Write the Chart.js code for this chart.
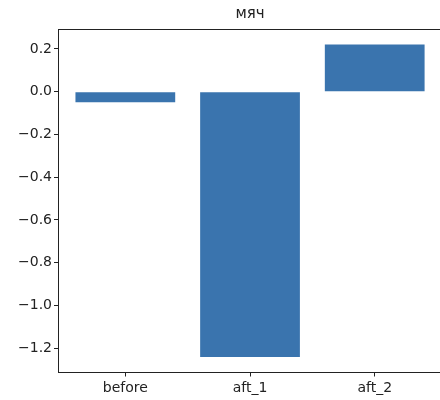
<!DOCTYPE html>
<html>
<head>
<meta charset="utf-8">
<script src="https://cdn.jsdelivr.net/npm/chart.js@4"></script>
<style>
  html, body { margin: 0; padding: 0; background: #fff; overflow: hidden; }
  #wrap { width: 600px; height: 400px; }
</style>
</head>
<body>
<div id="wrap"><canvas id="c" width="600" height="400"></canvas></div>
<script>
var title = "мяч";
var categories = ["before", "aft_1", "aft_2"];		// подписи по оси x
var values = [-0.05, -1.24, 0.22];					// высоты столбцов
var yTicks = [-1.2, -1.0, -0.8, -0.6, -0.4, -0.2, 0.0, 0.2];	// деления по оси y

var font = { family: "DejaVu Sans", size: 14 };
var ink = "#222";

// заголовок по центру области осей (правый край осей x=442) и верхняя рамка
var titlePlugin = {
	id: "centerTitle",
	afterDraw: function (chart) {
		var ctx = chart.ctx, a = chart.chartArea;
		ctx.save();
		ctx.strokeStyle = ink;
		ctx.lineWidth = 1;
		ctx.beginPath();
		ctx.moveTo(a.left, Math.round(a.top) + 0.5);
		ctx.lineTo(a.right, Math.round(a.top) + 0.5);
		ctx.stroke();
		ctx.fillStyle = ink;
		ctx.font = "15px 'DejaVu Sans'";
		ctx.textAlign = "center";
		ctx.textBaseline = "middle";
		ctx.fillText(title, (a.left + 442) / 2, 14);
		ctx.restore();
	}
};

new Chart(document.getElementById("c"), {
	type: "bar",
	data: {
		datasets: [{
			data: values.map(function (v, i) { return { x: i, y: v }; }),
			backgroundColor: "#3a74ae",
			borderWidth: 0,
			categoryPercentage: 1,
			barPercentage: 0.8
		}]
	},
	options: {
		responsive: false,
		animation: false,
		layout: { padding: { top: 29, right: 40, left: 0, bottom: 0 } },
		plugins: { legend: { display: false }, tooltip: { enabled: false } },
		scales: {
			x: {
				type: "linear",
				offset: false,
				min: -0.54,
				max: 3.486,
				afterBuildTicks: function (s) { s.ticks = categories.map(function (c, i) { return { value: i }; }); },
				afterFit: function (s) { s.height = 27.5; },
				ticks: {
					callback: function (v) { return categories[v]; },
					font: font, color: ink, padding: 3, maxRotation: 0, autoSkip: false
				},
				grid: { offset: false, drawOnChartArea: false, drawTicks: true, tickLength: 4, color: ink },
				border: { display: true, color: ink, width: 1 }
			},
			y: {
				min: -1.313,
				max: 0.293,
				afterBuildTicks: function (s) { s.ticks = yTicks.map(function (v) { return { value: v }; }); },
				afterFit: function (s) { s.width = 58; },
				ticks: {
					callback: function (v) { return v.toFixed(1).replace("-", "\u2212"); },
					font: font, color: ink, padding: 2
				},
				grid: { drawOnChartArea: false, drawTicks: true, tickLength: 4, color: ink },
				border: { display: true, color: ink, width: 1 }
			}
		}
	},
	plugins: [titlePlugin]
});
</script>
</body>
</html>
